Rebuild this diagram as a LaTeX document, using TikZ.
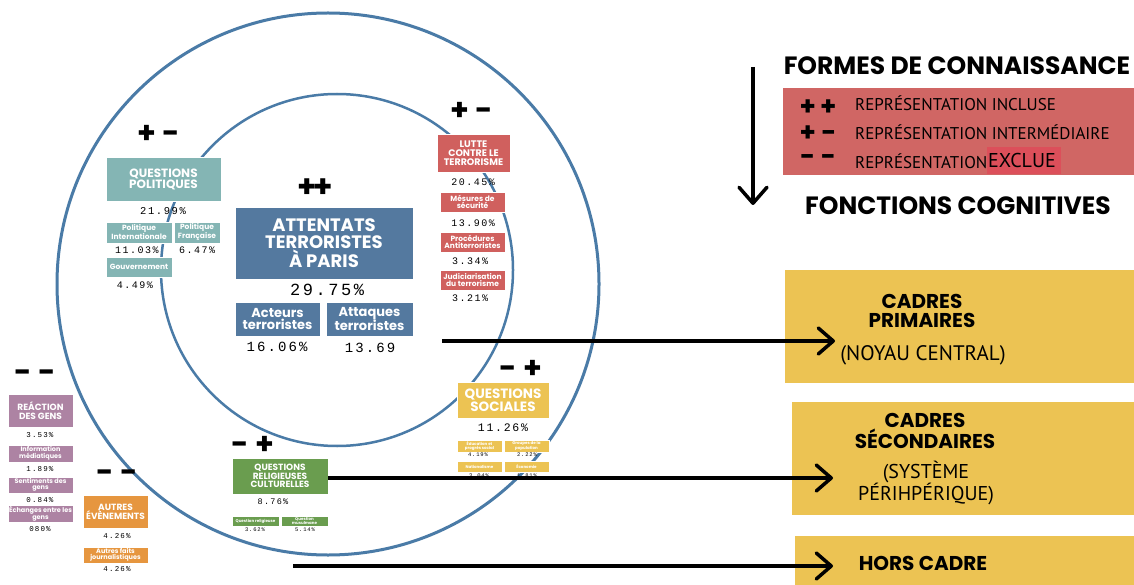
\documentclass[tikz,border=0pt]{standalone}
\usepackage{fontspec}
\usepackage{tikz}
\usetikzlibrary{arrows.meta}
\newfontfamily\headfont{Poppins}
\newfontfamily\condfont{PT Sans}
\newfontfamily\pctfont[LetterSpace=15]{Liberation Mono}

\definecolor{ringblue}{HTML}{4A7BA7}
\definecolor{cblue}{HTML}{54799F}
\definecolor{cteal}{HTML}{84B5B4}
\definecolor{cred}{HTML}{D0605E}
\definecolor{legred}{HTML}{D06664}
\definecolor{exred}{HTML}{DC4F5A}
\definecolor{cyellow}{HTML}{ECC353}
\definecolor{cgreen}{HTML}{6A9D4F}
\definecolor{cpurple}{HTML}{AD83A3}
\definecolor{corange}{HTML}{E6963F}

\tikzset{
  catbox/.style n args={3}{fill=#1, draw=white, line width=0.6pt, text=white,
    align=center, inner sep=0pt, font=\headfont\bfseries\fontsize{#2}{#3}\selectfont},
  pct/.style={font=\pctfont\fontsize{#1}{#1}\selectfont, inner sep=0pt},
  sign/.style={font=\headfont\bfseries\fontsize{#1}{#1}\selectfont, inner sep=0pt},
  title/.style={font=\headfont\bfseries\fontsize{#1}{#1}\selectfont, inner sep=0pt, align=center},
  legtext/.style={font=\condfont\fontsize{#1}{#1}\selectfont, inner sep=0pt, align=center},
  bigarrow/.style={line width=3.5pt, -{Straight Barb[length=15pt,width=26pt,round]}},
}

\begin{document}
\begin{tikzpicture}[x=1pt,y=-1pt]
  \fill[white] (0,0) rectangle (1134,585);
  \useasboundingbox (0,0) rectangle (1134,585);
  % Draw circles
  \draw[ringblue, line width=3pt] (328,284) circle[radius=271pt];
  \draw[ringblue, line width=2.5pt] (337,270) circle[radius=176pt];

  % Central node
  \node[sign=31] (scent) at (315,188) {+\kern-3pt+};
  \node[catbox={cblue}{18}{17.5}, minimum width=178, minimum height=72] (attentats) at (324,243) {ATTENTATS\\TERRORISTES\\À PARIS};
  \node[pct=17] (pcent) at (327,290) {29.75\%};
  \node[catbox={cblue}{13}{12}, minimum width=85, minimum height=34] (acteurs) at (277.5,319) {Acteurs\\terroristes};
  \node[catbox={cblue}{13}{12}, minimum width=87, minimum height=34] (attaques) at (369.5,319) {Attaques\\terroristes};
  \node[pct=14] (pact) at (277,347) {16.06\%};
  \node[pct=14] (patt) at (370,348) {13.69};

  % Questions politiques
  \node[sign=30] (spol) at (159,134) {+ -};
  \node[catbox={cteal}{12}{11}, minimum width=115, minimum height=44] (pol) at (163.5,179) {QUESTIONS\\POLITIQUES};
  \node[pct=10.5] (ppol) at (163,211) {21.99\%};
  \node[catbox={cteal}{7.5}{7}, minimum width=66, minimum height=21] (polint) at (139,232.5) {Politique\\Internationale};
  \node[catbox={cteal}{7.5}{7}, minimum width=46, minimum height=21] (polfr) at (197,232.5) {Politique\\Française};
  \node[pct=10] (ppolint) at (137,250) {11.03\%};
  \node[pct=10] (ppolfr) at (197,250) {6.47\%};
  \node[catbox={cteal}{7.5}{7}, minimum width=66, minimum height=20] (gouv) at (139,267) {Gouvernement};
  \node[pct=10] (pgouv) at (135,285) {4.49\%};

  % Lutte contre le terrorisme
  \node[sign=30] (slutte) at (472,111) {+ -};
  \node[catbox={cred}{9.5}{9}, minimum width=73, minimum height=38] (lutte) at (473.5,153) {LUTTE\\CONTRE LE\\TERRORISME};
  \node[pct=10] (plutte) at (473,182) {20.45\%};
  \node[catbox={cred}{7.5}{7}, minimum width=65, minimum height=20] (mesures) at (472.5,202) {Mésures de\\sécurité};
  \node[pct=10] (pmes) at (473,223) {13.90\%};
  \node[catbox={cred}{7.5}{7}, minimum width=65, minimum height=20] (proced) at (472.5,242) {Procédures\\Antiterroristes};
  \node[pct=10] (pproc) at (470,261) {3.34\%};
  \node[catbox={cred}{7.5}{7}, minimum width=65, minimum height=20] (judic) at (472.5,280) {Judiciarisation\\du terrorisme};
  \node[pct=10] (pjud) at (470,298) {3.21\%};

  % Questions sociales
  \node[sign=30] (ssoc) at (521,369) {- +};
  \node[catbox={cyellow}{13.5}{12.5}, minimum width=92, minimum height=36] (soc) at (503,400) {QUESTIONS\\SOCIALES};
  \node[pct=11.5] (psoc) at (503,428) {11.26\%};
  \node[catbox={cyellow}{4}{4}, minimum width=45, minimum height=12] (educ) at (479.5,446) {Éducation et\\progrès social};
  \node[catbox={cyellow}{4}{4}, minimum width=45, minimum height=12] (groupes) at (526.5,446) {Groupes de la\\population};
  \node[pct=5.5] (peduc) at (478,455) {4.19\%};
  \node[pct=5.5] (pgroup) at (527,455) {2.22\%};
  \node[catbox={cyellow}{4}{4}, minimum width=45, minimum height=11] (nation) at (479.5,466.5) {Nationalisme};
  \node[catbox={cyellow}{4}{4}, minimum width=45, minimum height=11] (econ) at (526.5,466.5) {Économie};
  \node[pct=5.5] (pnat) at (479,476) {3.04\%};
  \node[pct=5.5] (pecon) at (527,476) {1.81\%};

  % Questions religieuses
  \node[sign=30] (srel) at (253,445) {- +};
  \node[catbox={cgreen}{9}{8.5}, minimum width=96, minimum height=36] (relig) at (280,476) {QUESTIONS\\RELIGIEUSES\\CULTURELLES};
  \node[pct=8.5] (prel) at (273,502) {8.76\%};
  \node[catbox={cgreen}{4}{4}, minimum width=47, minimum height=10] (qrelig) at (255.5,521) {Question religieuse};
  \node[catbox={cgreen}{4}{4}, minimum width=47, minimum height=10] (qmusul) at (304.5,521) {Question\\musulmane};
  \node[pct=5.5] (pqrel) at (255,530) {3.62\%};
  \node[pct=5.5] (pqmus) at (305,530) {5.14\%};

  % Reaction des gens
  \node[sign=30] (sreac) at (35,376) {- -};
  \node[catbox={cpurple}{9}{9}, minimum width=65, minimum height=33] (reac) at (40.5,410.5) {REÁCTION\\DES GENS};
  \node[pct=7.5] (preac) at (40,435) {3.53\%};
  \node[catbox={cpurple}{6.5}{6.5}, minimum width=65, minimum height=17] (info) at (40.5,453.5) {Information\\médiatiques};
  \node[pct=7.5] (pinfo) at (40,469) {1.89\%};
  \node[catbox={cpurple}{6.5}{6.5}, minimum width=65, minimum height=16] (sent) at (40.5,485) {Sentiments des\\gens};
  \node[pct=7.5] (psent) at (40,500) {0.84\%};
  \node[catbox={cpurple}{6.5}{6.5}, minimum width=65, minimum height=17] (echg) at (40.5,513.5) {Échanges entre les\\gens};
  \node[pct=7.5] (pechg) at (40,529) {080\%};

  % Autres evenements
  \node[sign=30] (saut) at (117,476) {- -};
  \node[catbox={corange}{9}{9}, minimum width=65, minimum height=33] (autres) at (115.5,511.5) {AUTRES\\ÉVÈNEMENTS};
  \node[pct=7.5] (paut) at (117,536) {4.26\%};
  \node[catbox={corange}{6.5}{6.5}, minimum width=65, minimum height=16] (faits) at (115.5,555) {Autres faits\\journalistiques};
  \node[pct=7.5] (pfaits) at (117,569) {4.26\%};

  % Legend
  \coordinate (dtop) at (753,67);
  \coordinate (dbot) at (753,205);
  \draw[line width=3.5pt, -{Straight Barb[length=16pt,width=28pt,round]}] (dtop) -- (dbot);
  \node[title=25] (formes) at (957,66) {FORMES DE CONNAISSANCE};
  \node[fill=legred, minimum width=351, minimum height=87, inner sep=0pt] (legend) at (958.5,131.5) {};
  \node[fill=exred, minimum width=74, minimum height=27, inner sep=0pt] (exbox) at (1024,160.5) {};
  \node[sign=26] (l1) at (818,108) {+\,+};
  \node[sign=26] (l2) at (818,134) {+ -};
  \node[sign=26] (l3) at (818,160) {- -};
  \node[legtext=17, anchor=west] (t1) at (855,103) {REPRÉSENTATION INCLUSE};
  \node[legtext=17, anchor=west] (t2) at (855,132) {REPRÉSENTATION INTERMÉDIAIRE};
  \node[legtext=17, anchor=west] (t3) at (855,161) {REPRÉSENTATION};
  \node[legtext=20] (t4) at (1022,161) {EXCLUE};
  \node[title=25] (fonctions) at (958,206) {FONCTIONS COGNITIVES};

  % Cadres
  \node[fill=cyellow, minimum width=349, minimum height=113, inner sep=0pt] (prim) at (959.5,326.5) {};
  \node[title=20, font=\headfont\bfseries\fontsize{20}{19.5}\selectfont] (primt) at (922,311) {CADRES\\PRIMAIRES};
  \node[legtext=21] (noyau) at (923,355) {(NOYAU CENTRAL)};
  \node[fill=cyellow, minimum width=342, minimum height=113, inner sep=0pt] (sec) at (963,458.5) {};
  \node[title=20, font=\headfont\bfseries\fontsize{20}{19.5}\selectfont] (sect) at (925,431) {CADRES\\SÉCONDAIRES};
  \node[legtext=20, font=\condfont\fontsize{20}{18}\selectfont] (periph) at (926,483) {(SYSTÈME\\PÉRIHPÉRIQUE)};
  \node[fill=cyellow, minimum width=339, minimum height=49, inner sep=0pt] (hors) at (964.5,560.5) {};
  \node[title=20] (horst) at (923,563) {HORS CADRE};

  % Arrows
  \coordinate (a1s) at (442,341);
  \coordinate (a1e) at (835,341);
  \coordinate (a2e) at (833,478);
  \coordinate (a3s) at (293,566);
  \coordinate (a3e) at (833,566);
  \draw[bigarrow] (a1s) -- (a1e);
  \draw[bigarrow] (relig.east |- a2e) -- (a2e);
  \draw[bigarrow] (a3s) -- (a3e);
\end{tikzpicture}
\end{document}
